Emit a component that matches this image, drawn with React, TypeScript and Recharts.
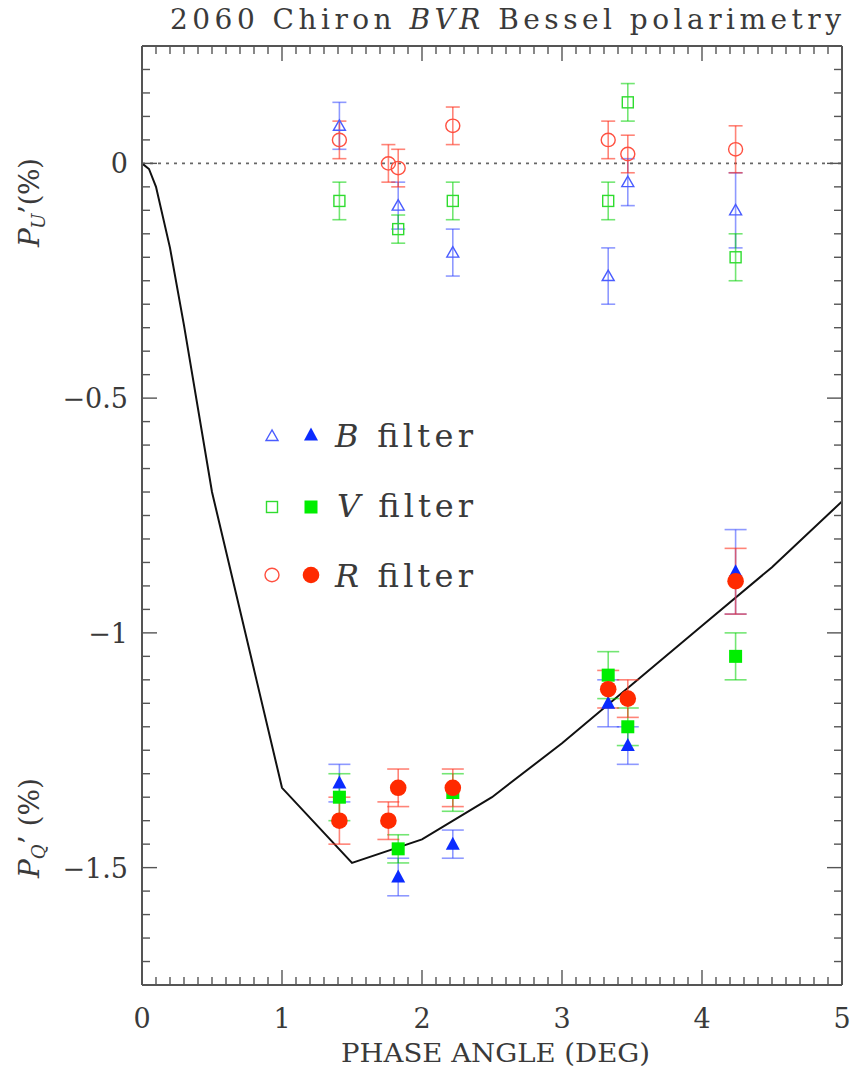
import React from 'react';
import { ComposedChart, XAxis, YAxis, Scatter, Line, ErrorBar, ReferenceLine } from 'recharts';

// ---------- data ----------
const B_PHASE = [1.41, 1.83, 2.22, 3.33, 3.47, 4.24];
const B_PU = [0.08, -0.09, -0.19, -0.24, -0.04, -0.10];
const B_PU_ERR = [0.05, 0.05, 0.05, 0.06, 0.05, 0.08];
const B_PQ = [-1.32, -1.52, -1.45, -1.15, -1.24, -0.87];
const B_PQ_ERR = [0.04, 0.04, 0.03, 0.05, 0.04, 0.09];

const V_PHASE = [1.41, 1.83, 2.22, 3.33, 3.47, 4.24];
const V_PU = [-0.08, -0.14, -0.08, -0.08, 0.13, -0.20];
const V_PU_ERR = [0.04, 0.03, 0.04, 0.04, 0.04, 0.05];
const V_PQ = [-1.35, -1.46, -1.34, -1.09, -1.20, -1.05];
const V_PQ_ERR = [0.05, 0.03, 0.04, 0.05, 0.04, 0.05];

const R_PHASE = [1.41, 1.76, 1.83, 2.22, 3.33, 3.47, 4.24];
const R_PU = [0.05, 0.00, -0.01, 0.08, 0.05, 0.02, 0.03];
const R_PU_ERR = [0.04, 0.04, 0.04, 0.04, 0.04, 0.04, 0.05];
const R_PQ = [-1.40, -1.40, -1.33, -1.33, -1.12, -1.14, -0.89];
const R_PQ_ERR = [0.05, 0.04, 0.04, 0.04, 0.04, 0.04, 0.07];

const CURVE_X = [0, 0.05, 0.1, 0.2, 0.3, 0.5, 1.0, 1.5, 2.0, 2.5, 3.0, 3.5, 4.0, 4.5, 5.0];
const CURVE_Y = [0, -0.012, -0.05, -0.18, -0.345, -0.70, -1.33, -1.49, -1.44, -1.35, -1.235, -1.11, -0.985, -0.86, -0.72];

const X_TICKS = [0, 0.1, 0.2, 0.3, 0.4, 0.5, 0.6, 0.7, 0.8, 0.9, 1, 1.1, 1.2, 1.3, 1.4, 1.5, 1.6, 1.7, 1.8, 1.9, 2, 2.1, 2.2, 2.3, 2.4, 2.5, 2.6, 2.7, 2.8, 2.9, 3, 3.1, 3.2, 3.3, 3.4, 3.5, 3.6, 3.7, 3.8, 3.9, 4, 4.1, 4.2, 4.3, 4.4, 4.5, 4.6, 4.7, 4.8, 4.9, 5];
const Y_TICKS = [-1.75, -1.7, -1.65, -1.6, -1.55, -1.5, -1.45, -1.4, -1.35, -1.3, -1.25, -1.2, -1.15, -1.1, -1.05, -1, -0.95, -0.9, -0.85, -0.8, -0.75, -0.7, -0.65, -0.6, -0.55, -0.5, -0.45, -0.4, -0.35, -0.3, -0.25, -0.2, -0.15, -0.1, -0.05, 0, 0.05, 0.1, 0.15, 0.2, 0.25];

const X_DOMAIN = [0, 5];
const Y_DOMAIN = [-1.75, 0.25];

const TITLE = '2060 Chiron ';
const TITLE_IT = 'BVR';
const TITLE_END = ' Bessel polarimetry';
const X_LABEL = 'PHASE ANGLE (DEG)';

// ---------- styles ----------
const FONT = 'DejaVu Serif';
const TEXT = '#3a3a3a';
const FRAME = '#555';

const BLUE = '#0b2bff';
const BLUE_O = '#4a5cff';
const BLUE_E = 'rgba(50,70,255,0.55)';
const GREEN = '#00ee00';
const GREEN_O = '#2fdc2f';
const GREEN_E = 'rgba(0,210,0,0.55)';
const RED = '#ff2a00';
const RED_O = '#ff5040';
const RED_E = 'rgba(255,50,30,0.6)';

const zip = (xs: number[], ys: number[], es?: number[]) =>
  xs.map((x, i) => ({ x, y: ys[i], e: es ? es[i] : 0 }));

const bU = zip(B_PHASE, B_PU, B_PU_ERR);
const bQ = zip(B_PHASE, B_PQ, B_PQ_ERR);
const vU = zip(V_PHASE, V_PU, V_PU_ERR);
const vQ = zip(V_PHASE, V_PQ, V_PQ_ERR);
const rU = zip(R_PHASE, R_PU, R_PU_ERR);
const rQ = zip(R_PHASE, R_PQ, R_PQ_ERR);
const curve = zip(CURVE_X, CURVE_Y);

// ---------- marker shapes ----------
const triPts = (cx: number, cy: number, hw: number, up: number, down: number) =>
  `${cx},${cy - up} ${cx - hw},${cy + down} ${cx + hw},${cy + down}`;

const OpenTri = (p: any) => (
  <polygon points={triPts(p.cx, p.cy, 6, 6, 4.5)} fill="none" stroke={BLUE_O} strokeWidth={1.4} />
);
const FillTri = (p: any) => (
  <polygon points={triPts(p.cx, p.cy, 7, 7.5, 5.5)} fill={BLUE} stroke="none" />
);
const OpenSq = (p: any) => (
  <rect x={p.cx - 5.5} y={p.cy - 5.5} width={11} height={11} fill="none" stroke={GREEN_O} strokeWidth={1.4} />
);
const FillSq = (p: any) => (
  <rect x={p.cx - 6.5} y={p.cy - 6.5} width={13} height={13} fill={GREEN} stroke="none" />
);
const OpenCirc = (p: any) => (
  <ellipse cx={p.cx} cy={p.cy} rx={7} ry={6.7} fill="none" stroke={RED_O} strokeWidth={1.4} />
);
const FillCirc = (p: any) => <circle cx={p.cx} cy={p.cy} r={8.3} fill={RED} stroke="none" />;

// ---------- ticks ----------
const isMajorX = (v: number) => Math.abs(v - Math.round(v)) < 1e-6;
const isMajorY = (v: number) => Math.abs(v * 2 - Math.round(v * 2)) < 1e-6;
const fmt = (v: number) => (v < 0 ? '\u2212' + Math.abs(v) : String(v));

const BottomTick = (p: any) => {
  const v = p.payload.value;
  const major = isMajorX(v);
  return (
    <g>
      <line x1={p.x} y1={p.y} x2={p.x} y2={p.y - (major ? 15 : 8)} stroke={FRAME} strokeWidth={1.4} />
      {major && (
        <text x={p.x} y={p.y + 43} textAnchor="middle" fontFamily={FONT} fontSize={27} fill={TEXT}>
          {fmt(v)}
        </text>
      )}
    </g>
  );
};
const TopTick = (p: any) => {
  const v = p.payload.value;
  const major = isMajorX(v);
  return <line x1={p.x} y1={p.y} x2={p.x} y2={p.y + (major ? 15 : 8)} stroke={FRAME} strokeWidth={1.4} />;
};
const LeftTick = (p: any) => {
  const v = p.payload.value;
  const major = isMajorY(v);
  return (
    <g>
      <line x1={p.x} y1={p.y} x2={p.x + (major ? 15 : 8)} y2={p.y} stroke={FRAME} strokeWidth={1.4} />
      {major && v > -1.7 && v < 0.2 && (
        <text x={p.x - 14} y={p.y + 10} textAnchor="end" fontFamily={FONT} fontSize={27} fill={TEXT}>
          {fmt(v)}
        </text>
      )}
    </g>
  );
};
const RightTick = (p: any) => {
  const v = p.payload.value;
  const major = isMajorY(v);
  return <line x1={p.x} y1={p.y} x2={p.x - (major ? 15 : 8)} y2={p.y} stroke={FRAME} strokeWidth={1.4} />;
};

const axisLine = { stroke: FRAME, strokeWidth: 2 };

const Overlay = () => (
  <svg width={854} height={1070} style={{ position: 'absolute', left: 0, top: 0, pointerEvents: 'none' }}>
    <text x={170} y={29} fontFamily={FONT} fontSize={28} fill={TEXT} textLength={671} lengthAdjust="spacing">
      {TITLE}
      <tspan fontStyle="italic">{TITLE_IT}</tspan>
      {TITLE_END}
    </text>
    <text x={341} y={1062} fontFamily={FONT} fontSize={26} fill={TEXT} textLength={309} lengthAdjust="spacingAndGlyphs">
      {X_LABEL}
    </text>
    <text transform="translate(39,247) rotate(-90)" fontFamily={FONT} fontSize={28} fill={TEXT} textLength={89} lengthAdjust="spacing">
      <tspan fontStyle="italic">P</tspan>
      <tspan fontStyle="italic" fontSize={18} dy={6}>U</tspan>
      <tspan dy={-6}>{'\u2019(%)'}</tspan>
    </text>
    <text transform="translate(39,878) rotate(-90)" fontFamily={FONT} fontSize={28} fill={TEXT} textLength={100} lengthAdjust="spacing">
      <tspan fontStyle="italic">P</tspan>
      <tspan fontStyle="italic" fontSize={18} dy={6}>Q</tspan>
      <tspan dy={-6}>{'\u2019 (%)'}</tspan>
    </text>
    {/* legend */}
    <OpenTri cx={272} cy={436} />
    <FillTri cx={311} cy={435} />
    <text x={335} y={447} fontFamily={FONT} fontSize={32} fill={TEXT} textLength={138} lengthAdjust="spacing">
      <tspan fontStyle="italic">B</tspan>
      {' filter'}
    </text>
    <OpenSq cx={272} cy={507} />
    <FillSq cx={311} cy={507} />
    <text x={337} y={517} fontFamily={FONT} fontSize={32} fill={TEXT} textLength={136} lengthAdjust="spacing">
      <tspan fontStyle="italic">V</tspan>
      {' filter'}
    </text>
    <OpenCirc cx={272} cy={575} />
    <FillCirc cx={311} cy={575} />
    <text x={335} y={587} fontFamily={FONT} fontSize={32} fill={TEXT} textLength={138} lengthAdjust="spacing">
      <tspan fontStyle="italic">R</tspan>
      {' filter'}
    </text>
  </svg>
);

export default function App() {
  return (
    <div style={{ position: 'absolute', left: 0, top: 0, width: 854, height: 1070, background: '#fff' }}>
      <ComposedChart width={854} height={1070} margin={{ top: 0, right: 0, bottom: 0, left: 0 }}>
        <XAxis xAxisId="b" type="number" dataKey="x" domain={X_DOMAIN} allowDataOverflow ticks={X_TICKS} interval={0}
          orientation="bottom" height={85} tickSize={0} tickMargin={0} tickLine={false} axisLine={axisLine} tick={<BottomTick />} />
        <XAxis xAxisId="t" type="number" dataKey="x" domain={X_DOMAIN} allowDataOverflow ticks={X_TICKS} interval={0}
          orientation="top" height={46} tickSize={0} tickMargin={0} tickLine={false} axisLine={axisLine} tick={<TopTick />} />
        <YAxis yAxisId="l" type="number" dataKey="y" domain={Y_DOMAIN} allowDataOverflow ticks={Y_TICKS} interval={0}
          orientation="left" width={142} tickSize={0} tickMargin={0} tickLine={false} axisLine={axisLine} tick={<LeftTick />} />
        <YAxis yAxisId="r" type="number" dataKey="y" domain={Y_DOMAIN} allowDataOverflow ticks={Y_TICKS} interval={0}
          orientation="right" width={12} tickSize={0} tickMargin={0} tickLine={false} axisLine={axisLine} tick={<RightTick />} />
        <ReferenceLine xAxisId="b" yAxisId="l" y={0} stroke="#666" strokeWidth={1.6} strokeDasharray="3 5" />
        <Line xAxisId="b" yAxisId="l" data={curve} dataKey="y" type="linear" stroke="#111" strokeWidth={2}
          dot={false} activeDot={false} isAnimationActive={false} />
        <Scatter xAxisId="b" yAxisId="l" data={bU} dataKey="y" shape={OpenTri} isAnimationActive={false}>
          <ErrorBar dataKey="e" direction="y" width={7} stroke={BLUE_E} strokeWidth={1.6} />
        </Scatter>
        <Scatter xAxisId="b" yAxisId="l" data={vU} dataKey="y" shape={OpenSq} isAnimationActive={false}>
          <ErrorBar dataKey="e" direction="y" width={7} stroke={GREEN_E} strokeWidth={1.6} />
        </Scatter>
        <Scatter xAxisId="b" yAxisId="l" data={rU} dataKey="y" shape={OpenCirc} isAnimationActive={false}>
          <ErrorBar dataKey="e" direction="y" width={7} stroke={RED_E} strokeWidth={1.6} />
        </Scatter>
        <Scatter xAxisId="b" yAxisId="l" data={bQ} dataKey="y" shape={FillTri} isAnimationActive={false}>
          <ErrorBar dataKey="e" direction="y" width={11} stroke={BLUE_E} strokeWidth={1.6} />
        </Scatter>
        <Scatter xAxisId="b" yAxisId="l" data={vQ} dataKey="y" shape={FillSq} isAnimationActive={false}>
          <ErrorBar dataKey="e" direction="y" width={11} stroke={GREEN_E} strokeWidth={1.6} />
        </Scatter>
        <Scatter xAxisId="b" yAxisId="l" data={rQ} dataKey="y" shape={FillCirc} isAnimationActive={false}>
          <ErrorBar dataKey="e" direction="y" width={11} stroke={RED_E} strokeWidth={1.6} />
        </Scatter>
      </ComposedChart>
      <Overlay />
    </div>
  );
}
